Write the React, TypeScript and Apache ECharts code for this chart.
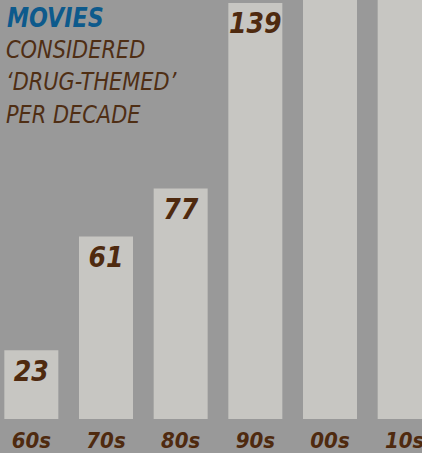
import React, { useEffect, useRef } from "react";
import * as echarts from "echarts";

const decades = ["60s", "70s", "80s", "90s", "00s", "10s"];
// 00s and 10s run off the top of the picture; their labels are not shown
const movieCounts = [23, 61, 77, 139, 200, 240];
const shownLabels = [true, true, true, true, false, false];
const titleLines = ["CONSIDERED", "\u2018DRUG-THEMED\u2019", "PER DECADE"];

export default function App() {
  const ref = useRef<HTMLDivElement>(null);
  useEffect(() => {
    document.body.style.margin = "0";
    const chart = echarts.init(ref.current!, null, { renderer: "svg" });
    const font = "'DejaVu Sans Condensed', 'Liberation Sans Narrow', sans-serif";
    chart.setOption({
      animation: false,
      backgroundColor: "#999999",
      grid: {
        left: -6,
        width: 448,
        top: 0,
        height: 419,
        containLabel: false,
        outerBoundsMode: "none",
      },
      xAxis: {
        type: "category",
        data: decades,
        axisLine: { show: false },
        axisTick: { show: false },
        axisLabel: {
          margin: 11,
          lineHeight: 20,
          color: "#4f2a0f",
          fontFamily: font,
          fontStyle: "italic",
          fontWeight: "bold",
          fontSize: 22,
          interval: 0,
        },
      },
      yAxis: {
        type: "value",
        min: 0,
        max: 140,
        show: false,
        splitLine: { show: false },
      },
      series: [
        {
          type: "bar",
          barWidth: 54,
          data: movieCounts.map((v, i) => ({
            value: v,
            label: { show: shownLabels[i] },
          })),
          itemStyle: { color: "#c7c6c2" },
          label: {
            position: "insideTop",
            distance: 9,
            lineHeight: 24,
            color: "#4f2a0f",
            fontFamily: font,
            fontStyle: "italic",
            fontWeight: "bold",
            fontSize: 28,
          },
        },
      ],
      graphic: [
        {
          type: "text",
          left: 7,
          top: 5,
          scaleX: 0.95,
          style: {
            text: "MOVIES",
            fill: "#0d5a8c",
            font: `italic bold 26px ${font}`,
          },
        },
        ...titleLines.map((t, i) => ({
          type: "text",
          left: 6,
          top: 37 + i * 32.5,
          scaleX: 0.93,
          style: {
            text: t,
            fill: "#4f2e14",
            font: `italic 25px ${font}`,
          },
        })),
      ],
    });
    return () => chart.dispose();
  }, []);
  return (
    <div
      ref={ref}
      style={{ position: "fixed", left: 0, top: 0, width: 422, height: 453 }}
    />
  );
}
